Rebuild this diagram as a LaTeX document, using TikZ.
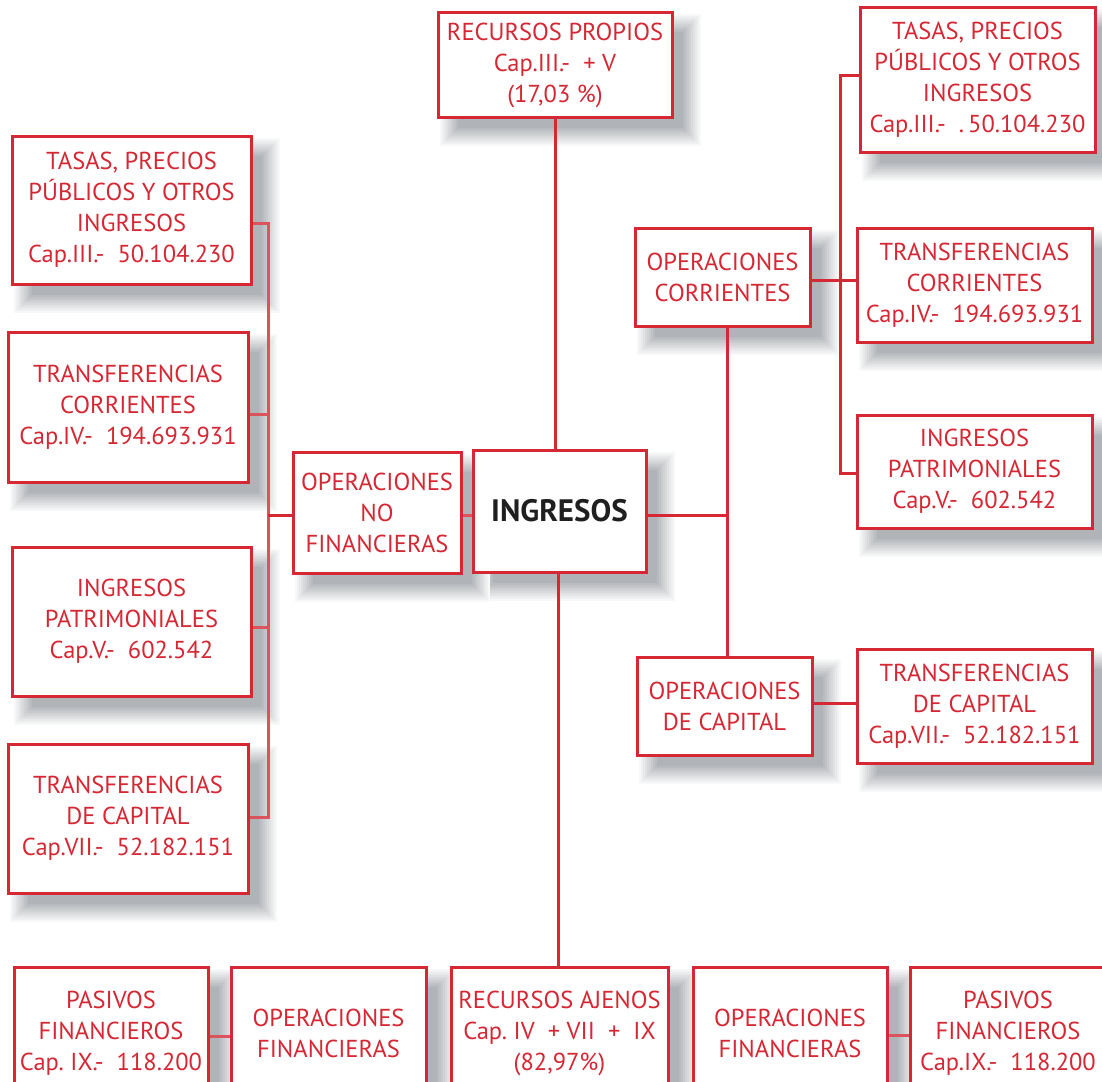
\documentclass[tikz,border=0pt]{standalone}
\usepackage{fontspec}
\newfontfamily\pts{PT Sans}
\usetikzlibrary{calc}
\definecolor{redc}{RGB}{213,40,52}
\definecolor{shb}{RGB}{0,10,25}
\pgfdeclarelayer{shad}
\pgfdeclarelayer{lines}
\pgfsetlayers{shad,lines,main}
\newcommand\shd[1]{%
  \foreach \k in {0,...,9}{%
    \pgfmathsetmacro\e{12-2*\k}%
    \pgfmathsetmacro\p{3+3.1*\k}%
    \fill[shb!\p!white] ($(#1.north west)+(15-\e,15-\e)$) rectangle ($(#1.south east)+(15+\e,15+\e)$);
  }}
\begin{document}
\begin{tikzpicture}[x=1pt,y=-1pt,
  box/.style={draw=redc, line width=3pt, fill=white, text=redc, align=center, inner sep=0pt, font=\pts\fontsize{24.5}{31}\selectfont},
  sz/.style 2 args={minimum width=#1pt, minimum height=#2pt},
  conn/.style={draw=redc, line width=3pt},
  connL/.style={draw=redc!80!white, line width=3pt},
]
\useasboundingbox (0,0) rectangle (1102,1081);

\node[box, sz={234}{104}] (rp) at (555,65) {RECURSOS PROPIOS\\Cap.III.-~~+~V\\(17,03~\%)};
\node[box, sz={235}{144}] (tasR) at (977.5,80) {TASAS, PRECIOS\\PÚBLICOS Y OTROS\\INGRESOS\\Cap.III.-~~.\,50.104.230};
\node[box, sz={175}{98}] (ocR) at (722.5,277) {OPERACIONES\\CORRIENTES};
\node[box, sz={235}{114}] (tcR) at (974.5,285) {TRANSFERENCIAS\\CORRIENTES\\Cap.IV.-~~194.693.931};
\node[box, sz={235}{113}] (ipR) at (974.5,471.5) {INGRESOS\\PATRIMONIALES\\Cap.V.-~~602.542};
\node[box, sz={173}{122}, text=black!88, font=\pts\bfseries\fontsize{31}{36}\selectfont] (ing) at (559.5,511) {INGRESOS};
\node[box, sz={175}{98}] (ocap) at (724.5,706) {OPERACIONES\\DE CAPITAL};
\node[box, sz={235}{114}] (tkR) at (974.5,706) {TRANSFERENCIAS\\DE CAPITAL\\Cap.VII.-~~52.182.151};
\node[box, sz={168}{121}] (onf) at (377,512.5) {OPERACIONES\\NO\\FINANCIERAS};
\node[box, sz={239}{148}] (tasL) at (131.5,210) {TASAS, PRECIOS\\PÚBLICOS Y OTROS\\INGRESOS\\Cap.III.-~~50.104.230};
\node[box, sz={240}{150}] (tcL) at (128,407) {TRANSFERENCIAS\\CORRIENTES\\Cap.IV.-~~194.693.931};
\node[box, sz={239}{149}] (ipL) at (131.5,621.5) {INGRESOS\\PATRIMONIALES\\Cap.V.-~~602.542};
\node[box, sz={240}{149}] (tkL) at (128,818.5) {TRANSFERENCIAS\\DE CAPITAL\\Cap.VII.-~~52.182.151};
\node[box, sz={194}{133}] (pasL) at (111,1033.5) {PASIVOS\\FINANCIEROS\\Cap.~IX.-~~118.200};
\node[box, sz={195}{133}] (ofL) at (328.5,1033.5) {OPERACIONES\\FINANCIERAS};
\node[box, sz={217}{133}] (ra) at (559.5,1033.5) {RECURSOS AJENOS\\Cap.~IV~~+~VII~~+~~IX\\(82,97\%)};
\node[box, sz={194}{133}] (ofR) at (790,1033.5) {OPERACIONES\\FINANCIERAS};
\node[box, sz={196}{133}] (pasR) at (1008,1033.5) {PASIVOS\\FINANCIEROS\\Cap.IX.-~~118.200};

\coordinate (jR) at (727,515);
\coordinate (bR) at (840,280);
\coordinate (bRt) at (840,75);
\coordinate (bRb) at (840,473);
\coordinate (cap) at (0,703);
\coordinate (bL1) at (268,223);
\coordinate (bL2) at (268,414);
\coordinate (bL3) at (268,627);
\coordinate (bL4) at (268,817);
\coordinate (bLm) at (268,515);
\coordinate (jB) at (558,0);
\coordinate (fL) at (0,1036);
\coordinate (fR) at (0,1035);

\begin{pgfonlayer}{lines}
\draw[conn] (rp.south) -- (rp.south |- ing.north);
\draw[conn] (ing.east |- jR) -- (jR);
\draw[conn] (ocR.south -| jR) -- (ocap.north -| jR);
\draw[conn] (ocR.east |- bR) -- (tcR.west |- bR);
\draw[conn] (tasR.west |- bRt) -- (bRt) -- (bRb) -- (ipR.west |- bRb);
\draw[conn] (ocap.east |- cap) -- (tkR.west |- cap);
\draw[connL] (tasL.east |- bL1) -- (bL1) -- (bL4) -- (tkL.east |- bL4);
\draw[connL] (tcL.east |- bL2) -- (bL2);
\draw[connL] (ipL.east |- bL3) -- (bL3);
\draw[conn] (bLm) -- (onf.west |- bLm);
\draw[connL] (onf.east |- jR) -- (ing.west |- jR);
\draw[conn] (ing.south -| jB) -- (ra.north -| jB);
\draw[connL] (pasL.east |- fL) -- (ofL.west |- fL);
\draw[connL] (ofR.east |- fR) -- (pasR.west |- fR);
\end{pgfonlayer}

\begin{pgfonlayer}{shad}
\foreach \n in {rp,tasR,ocR,tcR,ipR,ing,ocap,tkR,onf,tasL,tcL,ipL,tkL,pasL,ofL,ra,ofR,pasR}{\shd{\n}}
\end{pgfonlayer}
\end{tikzpicture}
\end{document}
